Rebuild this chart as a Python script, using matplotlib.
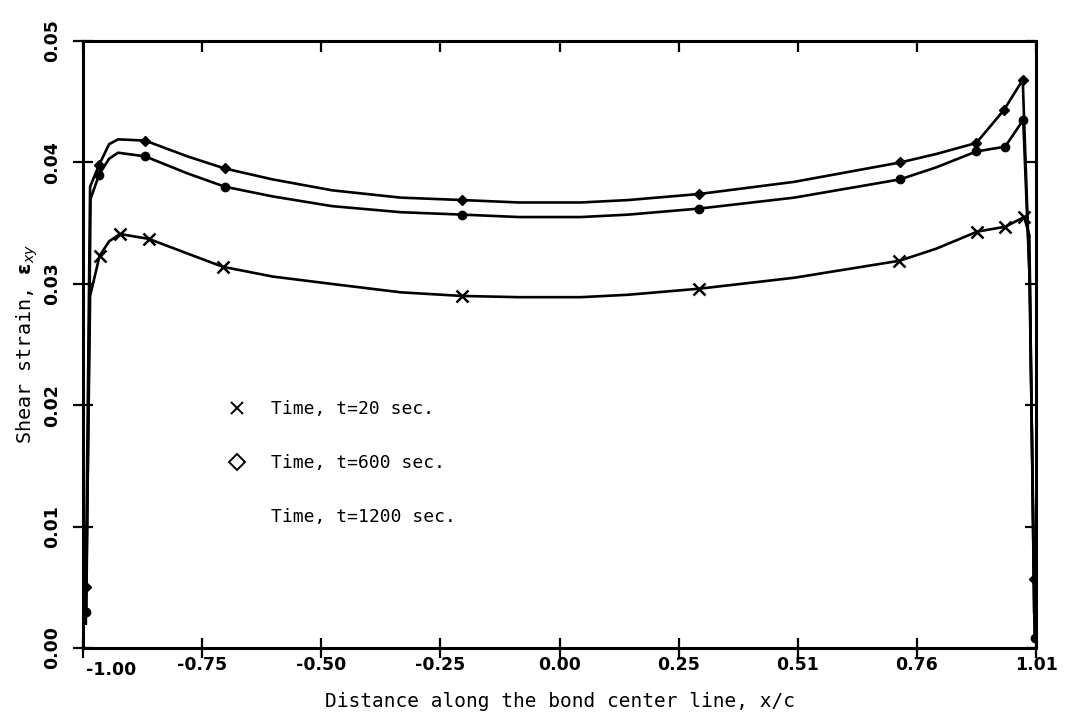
import numpy as np
import matplotlib
matplotlib.use("Agg")
import matplotlib.pyplot as plt
from matplotlib.lines import Line2D
from matplotlib.transforms import ScaledTranslation

# t = 20 sec (x markers)
x20 = [-0.994, -0.985, -0.965, -0.945, -0.922, -0.861, -0.78, -0.705, -0.60, -0.477,
       -0.33, -0.20, -0.08, 0.05, 0.15, 0.30, 0.50, 0.722, 0.80, 0.886, 0.945, 0.985, 0.996, 1.006]
y20 = [0.0020, 0.0290, 0.0323, 0.0335, 0.0341, 0.0337, 0.0325, 0.0314, 0.0306, 0.0300,
       0.0293, 0.0290, 0.0289, 0.0289, 0.0291, 0.0296, 0.0305, 0.0319, 0.0329, 0.0343, 0.0347, 0.0355, 0.0340, 0.0030]
m20 = [2, 4, 5, 7, 11, 15, 17, 19, 20, 21]

# t = 600 sec (upper curve)
x600 = [-0.994, -0.985, -0.966, -0.945, -0.926, -0.869, -0.78, -0.701, -0.60, -0.474,
        -0.33, -0.20, -0.08, 0.05, 0.15, 0.30, 0.50, 0.724, 0.80, 0.884, 0.942, 0.982, 0.996, 1.006]
y600 = [0.0050, 0.0380, 0.0398, 0.0415, 0.0419, 0.0418, 0.0405, 0.0395, 0.0386, 0.0377,
        0.0371, 0.0369, 0.0367, 0.0367, 0.0369, 0.0374, 0.0384, 0.0400, 0.0407, 0.0416, 0.0443, 0.0468, 0.0310, 0.0057]
m600 = [0, 2, 5, 7, 11, 15, 17, 19, 20, 21, 23]

# t = 1200 sec (middle curve)
x1200 = [-0.993, -0.984, -0.966, -0.945, -0.926, -0.869, -0.78, -0.701, -0.60, -0.475,
         -0.33, -0.20, -0.08, 0.05, 0.15, 0.30, 0.50, 0.723, 0.80, 0.884, 0.945, 0.983, 0.997, 1.007]
y1200 = [0.0030, 0.0370, 0.0390, 0.0403, 0.0408, 0.0405, 0.0391, 0.0380, 0.0372, 0.0364,
         0.0359, 0.0357, 0.0355, 0.0355, 0.0357, 0.0362, 0.0371, 0.0386, 0.0396, 0.0409, 0.0413, 0.0435, 0.0300, 0.0008]
m1200 = [0, 2, 5, 7, 11, 15, 17, 19, 20, 21, 23]

xticks = np.linspace(-1.0, 1.01, 9)
xlabels = ["-1.00", "-0.75", "-0.50", "-0.25", "0.00", "0.25", "0.51", "0.76", "1.01"]
yticks = [0.00, 0.01, 0.02, 0.03, 0.04, 0.05]
ylabels = ["0.00", "0.01", "0.02", "0.03", "0.04", "0.05"]

mono = "DejaVu Sans Mono"
tickfont = ["Liberation Sans Narrow", "DejaVu Sans"]

fig = plt.figure(figsize=(10.82, 7.26), dpi=100)
ax = fig.add_axes([0.0767, 0.1074, 0.8808, 0.8361])

ax.plot(x20, y20, color="k", lw=1.9, marker="x", ms=8.5, mew=1.8, markevery=m20)
ax.plot(x600, y600, color="k", lw=1.9, marker="D", ms=5.5, markevery=m600)
ax.plot(x1200, y1200, color="k", lw=1.9, marker="o", ms=6, markevery=m1200)

ax.set_xlim(-1.0, 1.01)
ax.set_ylim(0.0, 0.05)
for s in ax.spines.values():
    s.set_linewidth(2.2)

ax.set_xticks(xticks)
ax.set_xticklabels(xlabels, fontsize=12.5, fontweight="bold", family=tickfont)
ax.set_yticks(yticks)
ax.set_yticklabels(ylabels, fontsize=12.5, fontweight="bold", family=tickfont,
                   rotation=90, va="center")
ax.tick_params(direction="inout", length=14, width=1.6)
ax.tick_params(axis="x", pad=-1)
ax.tick_params(axis="y", pad=9)

# nudge the corner label away from the y "0.00"
first = ax.get_xticklabels()[0]
first.set_transform(first.get_transform() + ScaledTranslation(20 / 72, -3 / 72, fig.dpi_scale_trans))

top = ax.secondary_xaxis("top")
top.set_xticks(xticks)
top.set_xticklabels([])
top.tick_params(direction="in", length=8, width=1.6)
right = ax.secondary_yaxis("right")
right.set_yticks(yticks)
right.set_yticklabels([])
right.tick_params(direction="in", length=8, width=1.6)

ax.set_xlabel("Distance along the bond center line, x/c", fontsize=14, family=mono, labelpad=10)
ax.set_ylabel("Shear strain, $\\mathbf{\\epsilon}_{xy}$", fontsize=14.5, family=mono, labelpad=2)

handles = [Line2D([], [], ls="none", marker="x", color="k", ms=9, mew=1.4),
           Line2D([], [], ls="none", marker="D", mfc="white", mec="k", ms=8.5, mew=1.4),
           Line2D([], [], ls="none", marker="None")]
labels = ["Time, t=20 sec.", "Time, t=600 sec.", "Time, t=1200 sec."]
ax.legend(handles, labels, loc="upper left", bbox_to_anchor=(0.135, 0.435), frameon=False,
          prop={"family": mono, "size": 13}, handlelength=1.0, handletextpad=1.4,
          labelspacing=2.0)

fig.savefig("out.png", dpi=100)
